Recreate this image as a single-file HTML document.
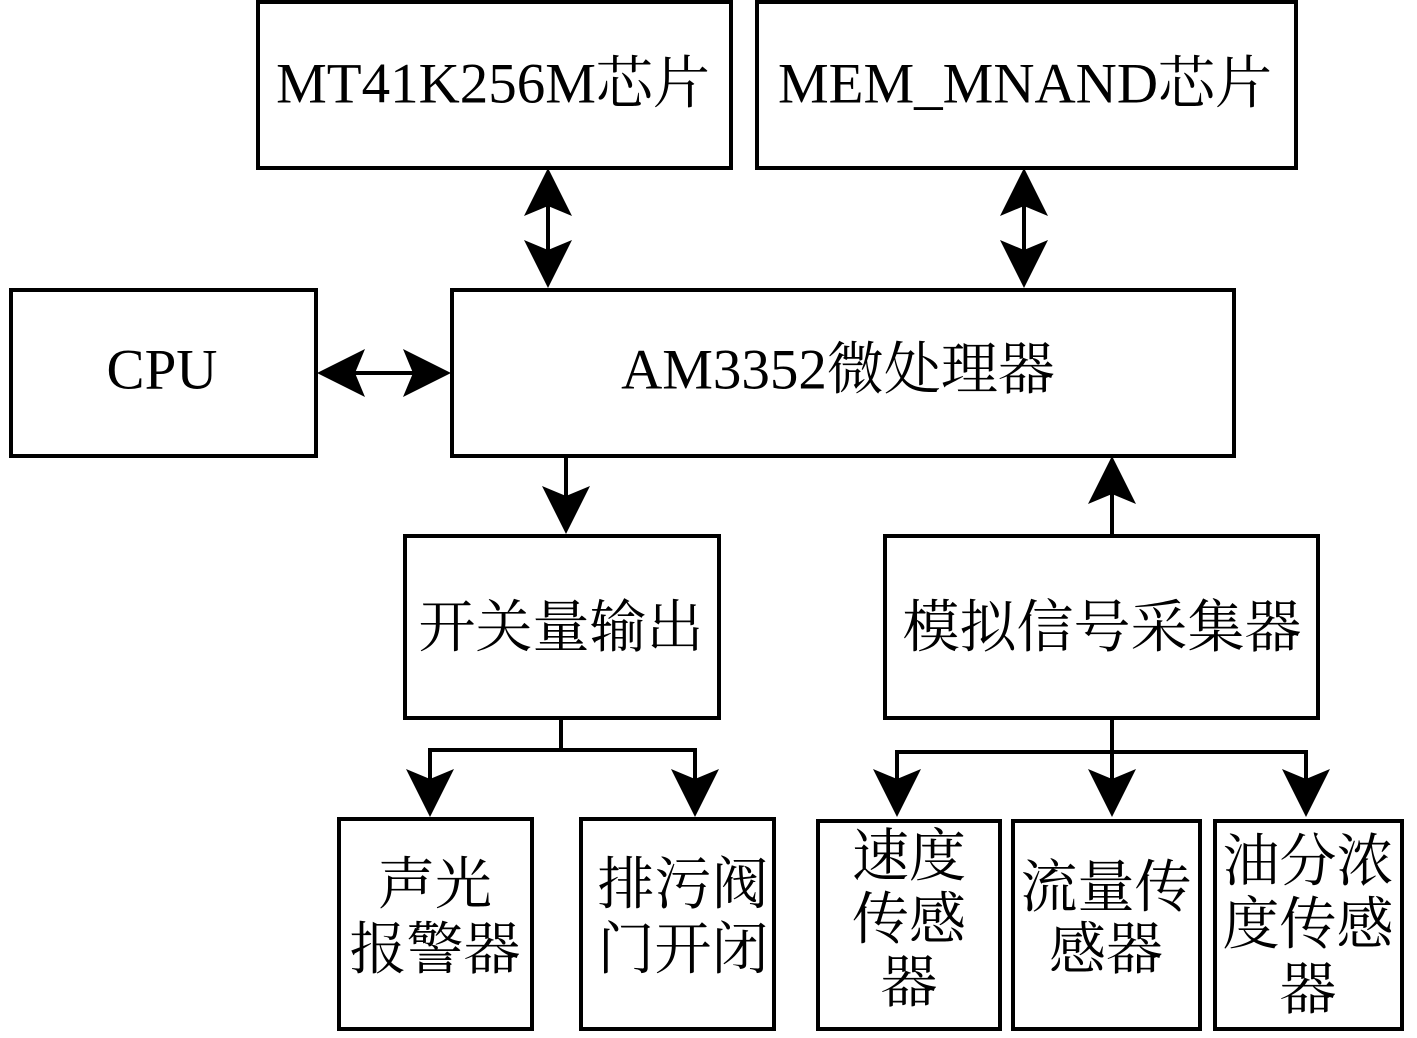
<!DOCTYPE html>
<html><head><meta charset="utf-8"><style>
html,body{margin:0;padding:0;background:#fff;}
svg text{font-family:"Liberation Serif","Noto Serif CJK SC",serif;fill:#000;}
</style></head><body>
<svg width="1417" height="1033" viewBox="0 0 1417 1033" xmlns="http://www.w3.org/2000/svg">
<defs>
<path id="ad" d="M0 0 L-24 -48 L0 -38 L24 -48 Z"/>
</defs>
<g fill="none" stroke="#000" stroke-width="4">
<rect x="258" y="2" width="473" height="166"/>
<rect x="757" y="2" width="539" height="166"/>
<rect x="11" y="290" width="305" height="166"/>
<rect x="452" y="290" width="782" height="166"/>
<rect x="405" y="536" width="314" height="182"/>
<rect x="885" y="536" width="433" height="182"/>
<rect x="339" y="819" width="193" height="210"/>
<rect x="581" y="819" width="193" height="210"/>
<rect x="818" y="821" width="182" height="208"/>
<rect x="1013" y="821" width="187" height="208"/>
<rect x="1215" y="821" width="187" height="208"/>
<line x1="548" y1="200" x2="548" y2="255"/>
<line x1="1024" y1="200" x2="1024" y2="255"/>
<line x1="350" y1="373" x2="418" y2="373"/>
<line x1="566" y1="456" x2="566" y2="500"/>
<line x1="1112" y1="490" x2="1112" y2="536"/>
<polyline points="430,780 430,750 695,750 695,780"/>
<line x1="561" y1="718" x2="561" y2="750"/>
<polyline points="897,780 897,752 1306,752 1306,780"/>
<line x1="1112" y1="718" x2="1112" y2="785"/>
</g>
<g fill="#000">
<use href="#ad" transform="translate(548,288)"/>
<use href="#ad" transform="translate(548,168) rotate(180)"/>
<use href="#ad" transform="translate(1024,288)"/>
<use href="#ad" transform="translate(1024,168) rotate(180)"/>
<use href="#ad" transform="translate(317,373) rotate(90)"/>
<use href="#ad" transform="translate(451,373) rotate(-90)"/>
<use href="#ad" transform="translate(566,534)"/>
<use href="#ad" transform="translate(1112,456) rotate(180)"/>
<use href="#ad" transform="translate(430,817)"/>
<use href="#ad" transform="translate(695,817)"/>
<use href="#ad" transform="translate(897,817)"/>
<use href="#ad" transform="translate(1112,817)"/>
<use href="#ad" transform="translate(1306,817)"/>
</g>
<g font-size="57" text-anchor="middle" dominant-baseline="central">
<text x="493" y="84">MT41K256M芯片</text>
<text x="1025" y="84">MEM_MNAND芯片</text>
<text x="162" y="370">CPU</text>
<text x="838" y="370">AM3352微处理器</text>
<text x="561" y="628">开关量输出</text>
<text x="1102" y="628">模拟信号采集器</text>
<text x="435" y="885">声光</text>
<text x="435" y="950">报警器</text>
<text x="683" y="885">排污阀</text>
<text x="683" y="950">门开闭</text>
<text x="909" y="857">速度</text>
<text x="909" y="920">传感</text>
<text x="909" y="983">器</text>
<text x="1106" y="888">流量传</text>
<text x="1106" y="950">感器</text>
<text x="1308" y="862">油分浓</text>
<text x="1308" y="925">度传感</text>
<text x="1308" y="990">器</text>
</g>
</svg>
</body></html>
